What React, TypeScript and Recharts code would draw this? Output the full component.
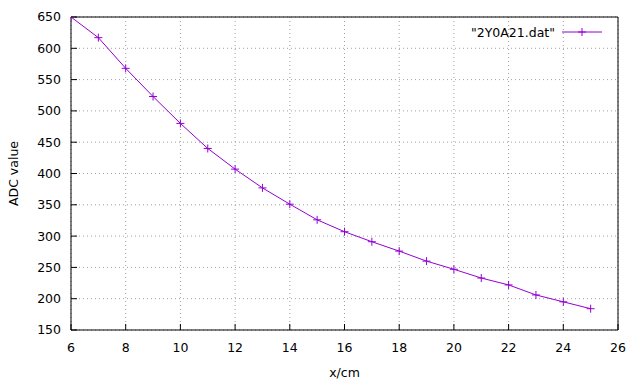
import React from "react";
import { LineChart, Line, XAxis, YAxis, CartesianGrid, Legend, Customized } from "recharts";

const xValues = [6, 7, 8, 9, 10, 11, 12, 13, 14, 15, 16, 17, 18, 19, 20, 21, 22, 23, 24, 25];
const adcValues = [650, 617, 568, 523, 480, 440, 407, 377, 351, 326, 307, 291, 276, 260, 247, 233, 222, 206, 195, 184];
const xTicks = [6, 8, 10, 12, 14, 16, 18, 20, 22, 24, 26];
const yTicks = [150, 200, 250, 300, 350, 400, 450, 500, 550, 600, 650];
const seriesName = '"2Y0A21.dat"';

const data = xValues.map((x, i) => ({ x, adc: adcValues[i] }));

const COLOR = "#9400d3";
const FONT = "'DejaVu Sans', sans-serif";

const Plus = (props: any) => {
  const { cx, cy } = props;
  if (cx == null || cy == null) return null;
  return (
    <g>
      <line x1={cx - 4} y1={cy} x2={cx + 4} y2={cy} stroke={COLOR} strokeWidth={1} />
      <line x1={cx} y1={cy - 4} x2={cx} y2={cy + 4} stroke={COLOR} strokeWidth={1} />
    </g>
  );
};

const LegendContent = () => (
  <div style={{ display: "flex", alignItems: "center", justifyContent: "flex-end", height: 16, fontFamily: FONT, fontSize: 12.5, color: "#000" }}>
    <span>{seriesName}</span>
    <svg width={40} height={16} style={{ marginLeft: 7 }}>
      <line x1={0} y1={8} x2={40} y2={8} stroke={COLOR} strokeWidth={1} />
      <line x1={16} y1={8} x2={24} y2={8} stroke={COLOR} strokeWidth={1} />
      <line x1={20} y1={4} x2={20} y2={12} stroke={COLOR} strokeWidth={1} />
    </svg>
  </div>
);

const tickStyle = { fontFamily: FONT, fontSize: 12.5, fill: "#000" };

export default function App() {
  return (
    <div style={{ position: "absolute", left: 0, top: 0, width: 640, height: 384, background: "#fff" }}>
      <LineChart width={640} height={384} data={data} margin={{ top: 16, right: 21, bottom: 53, left: 70 }}>
        <CartesianGrid stroke="#a0a0a0" strokeDasharray="1 3" />
        <XAxis
          dataKey="x"
          type="number"
          domain={[6, 26]}
          ticks={xTicks}
          height={1}
          tickSize={-6}
          tickMargin={19}
          tick={tickStyle}
          axisLine={{ stroke: "#000" }}
          tickLine={{ stroke: "#000" }}
          interval={0}
          allowDataOverflow
          label={{ value: "x/cm", position: "bottom", offset: 37, style: { fontFamily: FONT, fontSize: 12.5, fill: "#000" } }}
        />
        <XAxis
          xAxisId="t"
          orientation="top"
          dataKey="x"
          type="number"
          domain={[6, 26]}
          ticks={xTicks}
          height={1}
          tickSize={-6}
          tick={false}
          axisLine={{ stroke: "#000" }}
          tickLine={{ stroke: "#000" }}
          interval={0}
          allowDataOverflow
        />
        <YAxis
          type="number"
          domain={[150, 650]}
          ticks={yTicks}
          width={1}
          tickSize={-6}
          tickMargin={16}
          tick={tickStyle}
          axisLine={{ stroke: "#000" }}
          tickLine={{ stroke: "#000" }}
          interval={0}
          allowDataOverflow
        />
        <YAxis
          yAxisId="r"
          orientation="right"
          type="number"
          domain={[150, 650]}
          ticks={yTicks}
          width={1}
          tickSize={-6}
          tick={false}
          axisLine={{ stroke: "#000" }}
          tickLine={{ stroke: "#000" }}
          interval={0}
          allowDataOverflow
        />
        <Line
          xAxisId="t"
          yAxisId="r"
          dataKey="adc"
          stroke="none"
          dot={false}
          activeDot={false}
          legendType="none"
          isAnimationActive={false}
        />
        <Line
          dataKey="adc"
          name={seriesName}
          stroke={COLOR}
          strokeWidth={1}
          dot={<Plus />}
          activeDot={false}
          isAnimationActive={false}
        />
        <Legend
          layout="horizontal"
          verticalAlign="middle"
          align="center"
          content={<LegendContent />}
          wrapperStyle={{ position: "absolute", top: 24, left: 0, width: 602, height: 16 }}
        />
        <Customized
          component={() => (
            <text
              x={18}
              y={173.5}
              transform="rotate(-90, 18, 173.5)"
              textAnchor="middle"
              style={{ fontFamily: FONT, fontSize: 12.5, fill: "#000" }}
            >
              ADC value
            </text>
          )}
        />
      </LineChart>
    </div>
  );
}
